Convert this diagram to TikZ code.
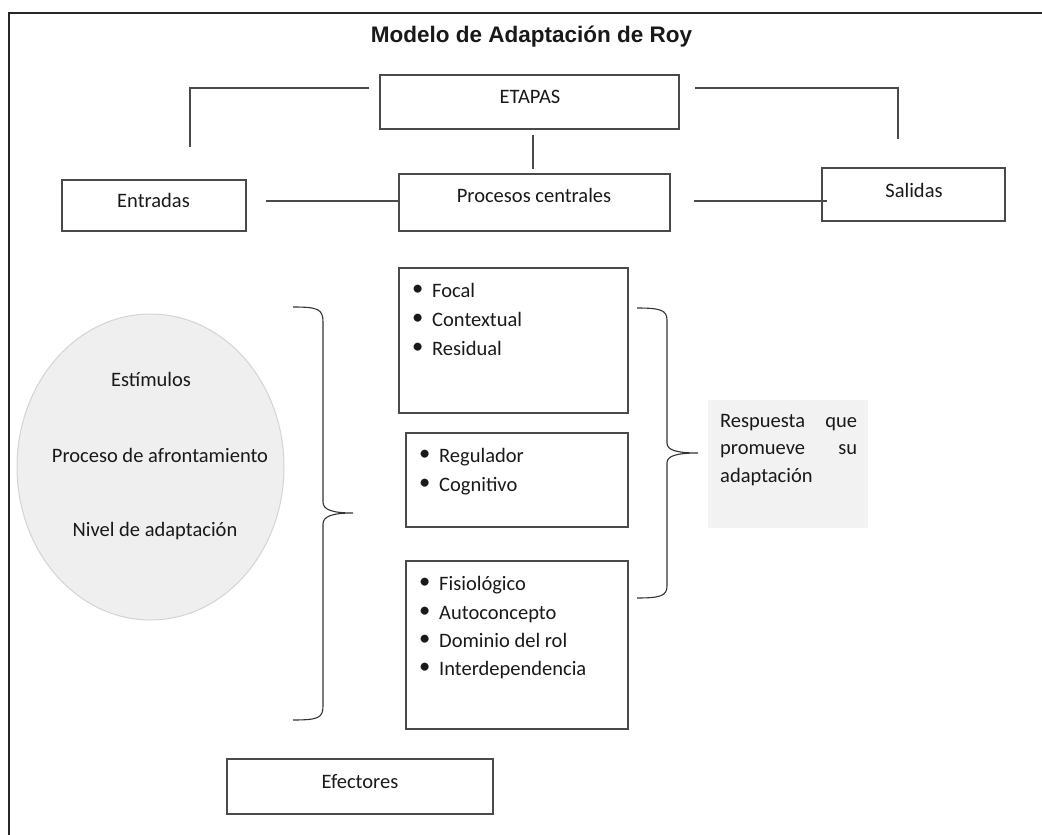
\documentclass[tikz,border=0pt]{standalone}
\usepackage{graphicx}
\usepackage{fontspec}
\setmainfont{Carlito}
\newfontfamily\titlefont{Liberation Sans}
\usetikzlibrary{shapes.geometric,calc}
\definecolor{boxline}{HTML}{4A4A4A}
\definecolor{ellfill}{HTML}{EFEFEF}
\definecolor{ellline}{HTML}{D4D4D4}
\definecolor{respfill}{HTML}{F2F2F2}
\newcommand\bul{\makebox[20pt][l]{\raisebox{1.2pt}{\scalebox{1.1}{•}}}}
\begin{document}
\begin{tikzpicture}[x=1pt,y=-1pt,
  every node/.style={font=\fontsize{20.5}{27.5}\selectfont, text=black!90},
  boxnode/.style={draw=boxline, line width=1.1pt, inner sep=0pt, rectangle},
  lbl/.style={anchor=base, inner sep=0pt},
  li/.style={anchor=base west, inner sep=0pt},
  conn/.style={draw=boxline, line width=1.1pt},
  brace/.style={draw=black!80, line width=1.1pt}]
\useasboundingbox (0,0) rectangle (1042,835);
% outer frame
\draw[line width=2pt, black!85] (9,835) -- (9,13) -- (1042,13);
% title
\node[lbl, font=\titlefont\bfseries\fontsize{22.5}{27}\selectfont] (title) at (531.5,42) {Modelo de Adaptación de Roy};
% top boxes
\node[boxnode, minimum width=299pt, minimum height=54pt] (etapas) at (529.5,102) {};
\node[boxnode, minimum width=271pt, minimum height=57pt] (proc) at (534.5,202.5) {};
\node[boxnode, minimum width=184pt, minimum height=51pt] (ent) at (154,205.5) {};
\node[boxnode, minimum width=183pt, minimum height=53pt] (sal) at (913.5,194.5) {};
\node[lbl] (tetapas) at (530,103) {ETAPAS};
\node[lbl] (tproc) at (534,202) {Procesos centrales};
\node[lbl] (tent) at (153.5,207) {Entradas};
\node[lbl] (tsal) at (914,197) {Salidas};
% connectors
\coordinate (cl1) at (369,88);
\coordinate (cl2) at (190,147);
\draw[conn] (cl1) -- (cl1 -| cl2) -- (cl2);
\coordinate (cr1) at (695,88);
\coordinate (cr2) at (898,139);
\draw[conn] (cr1) -- (cr1 -| cr2) -- (cr2);
\coordinate (cv1) at (533,135);
\draw[conn] (cv1) -- (cv1 |- 0,169);
\coordinate (ce) at (266,201);
\draw[conn] (ce) -- (ce -| proc.west);
\coordinate (cs1) at (694,201);
\coordinate (cs2) at (827,201);
\draw[conn] (cs1) -- (cs2);
% ellipse
\node[ellipse, draw=ellline, fill=ellfill, line width=1pt, minimum width=267pt, minimum height=306pt, inner sep=0pt] (ell) at (150.5,467) {};
\node[lbl] (est) at (151,386) {Estímulos};
\node[lbl] (afr) at (160,462) {Proceso de afrontamiento};
\node[lbl] (niv) at (155,536) {Nivel de adaptación};
% left brace
\coordinate (lbt) at (293,307);
\coordinate (lbm) at (353,513);
\coordinate (lbb) at (293,720);
\draw[brace] (lbt) .. controls (318,307) and (323,309) .. (323,322) -- (323,502)
  .. controls (323,510) and (333,513) .. (lbm)
  .. controls (333,513) and (323,516) .. (323,524) -- (323,706)
  .. controls (323,718) and (318,720) .. (lbb);
% list boxes
\node[boxnode, minimum width=229pt, minimum height=145pt] (b1) at (513.5,340.5) {};
\node[boxnode, minimum width=222pt, minimum height=94pt] (b2) at (517,480) {};
\node[boxnode, minimum width=222pt, minimum height=168pt] (b3) at (517,645) {};
\node[li] (f1) at (412,297) {\bul Focal};
\node[li] (f2) at (412,326) {\bul Contextual};
\node[li] (f3) at (412,355) {\bul Residual};
\node[li] (r1) at (419,462) {\bul Regulador};
\node[li] (r2) at (419,491) {\bul Cognitivo};
\node[li] (m1) at (419,590) {\bul Fisiológico};
\node[li] (m2) at (419,619) {\bul Autoconcepto};
\node[li] (m3) at (419,647) {\bul Dominio del rol};
\node[li] (m4) at (419,675) {\bul Interdependencia};
% right brace
\coordinate (rbt) at (637,308);
\coordinate (rbm) at (698,453);
\coordinate (rbb) at (637,598);
\draw[brace] (rbt) .. controls (660,308) and (667,310) .. (667,320) -- (667,443)
  .. controls (667,450) and (676,453) .. (rbm)
  .. controls (676,453) and (667,456) .. (667,463) -- (667,586)
  .. controls (667,596) and (660,598) .. (rbb);
% response box
\node[fill=respfill, minimum width=160pt, minimum height=128pt, inner sep=0pt] (resp) at (788,464) {};
\node[anchor=base west, inner sep=0pt, text width=137pt, align=left] (tresp) at (720,427)
  {Respuesta\hfill que\\promueve\hfill su\\adaptación};
% efectores
\node[boxnode, minimum width=266pt, minimum height=55pt] (efe) at (360,786.5) {};
\node[lbl] (tefe) at (360,788) {Efectores};
\end{tikzpicture}
\end{document}
